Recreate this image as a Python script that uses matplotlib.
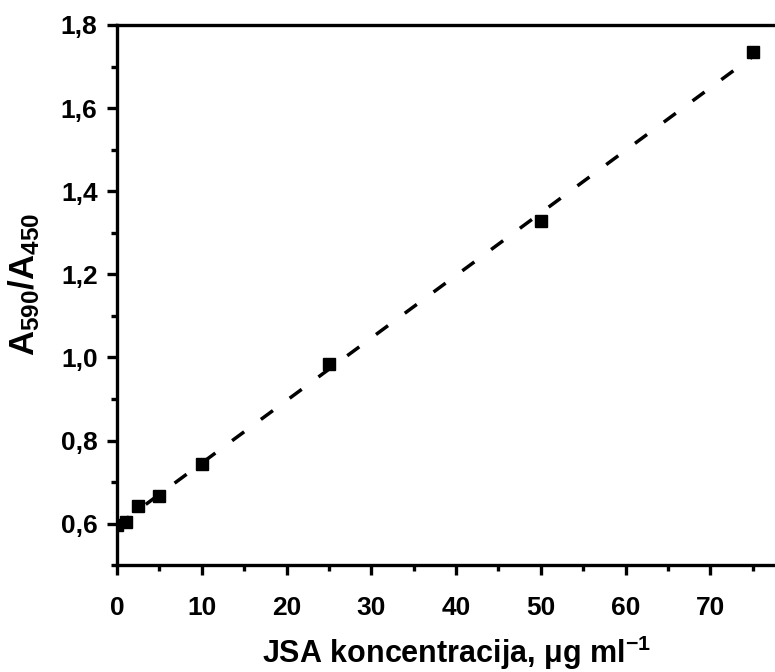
import numpy as np
import matplotlib
matplotlib.use('Agg')
import matplotlib.pyplot as plt
from matplotlib.ticker import MultipleLocator, FixedLocator, FuncFormatter

# JSA concentration (ug/ml) and absorbance ratio A590/A450
conc = [0, 1, 2.5, 5, 10, 25, 50, 75]
ratio = [0.597, 0.603, 0.642, 0.667, 0.744, 0.983, 1.328, 1.734]
xticks = [0, 10, 20, 30, 40, 50, 60, 70]

plt.rcParams['font.family'] = ['Liberation Sans', 'DejaVu Sans']
plt.rcParams['font.weight'] = 'bold'
plt.rcParams['mathtext.fontset'] = 'custom'
plt.rcParams['mathtext.rm'] = 'Liberation Sans:bold'
plt.rcParams['mathtext.bf'] = 'Liberation Sans:bold'
plt.rcParams['mathtext.it'] = 'Liberation Sans:bold'

fig = plt.figure(figsize=(7.75, 6.72), dpi=100)
ax = fig.add_axes([0.151, 0.159, 1.026 - 0.151, 0.9628 - 0.159])

# linear fit
k, b = np.polyfit(conc, ratio, 1)
xf = np.array([conc[0], conc[-1]])
ax.plot(conc, ratio, 's', color='black', markersize=9, zorder=2)
ax.plot(xf, k * xf + b, color='black', lw=2.5, ls=(0, (4.3, 6)), zorder=3)

ax.set_xlim(0, 80)
ax.set_ylim(0.5, 1.8)
ax.xaxis.set_major_locator(FixedLocator(xticks))
ax.xaxis.set_minor_locator(MultipleLocator(5))
ax.yaxis.set_major_locator(MultipleLocator(0.2))
ax.yaxis.set_minor_locator(MultipleLocator(0.1))
ax.yaxis.set_major_formatter(FuncFormatter(lambda v, p: ('%.1f' % v).replace('.', ',')))

for s in ax.spines.values():
    s.set_linewidth(2.4)
ax.tick_params(which='major', direction='out', length=7, width=2.4, labelsize=19, pad=7)
ax.tick_params(axis='x', which='major', pad=15)
ax.tick_params(which='minor', direction='out', length=4, width=2.4)
for lab in ax.get_xticklabels() + ax.get_yticklabels():
    lab.set_fontweight('bold')

ax.set_xlabel('JSA koncentracija, μg ml$^{-1}$', fontsize=22, fontweight='bold', labelpad=10)
ax.set_ylabel(r'$\mathbf{A_{590}/A_{450}}$', fontsize=25, labelpad=9)
ax.yaxis.set_label_coords(-0.11, 0.52)

fig.savefig('out.png', dpi=100)
